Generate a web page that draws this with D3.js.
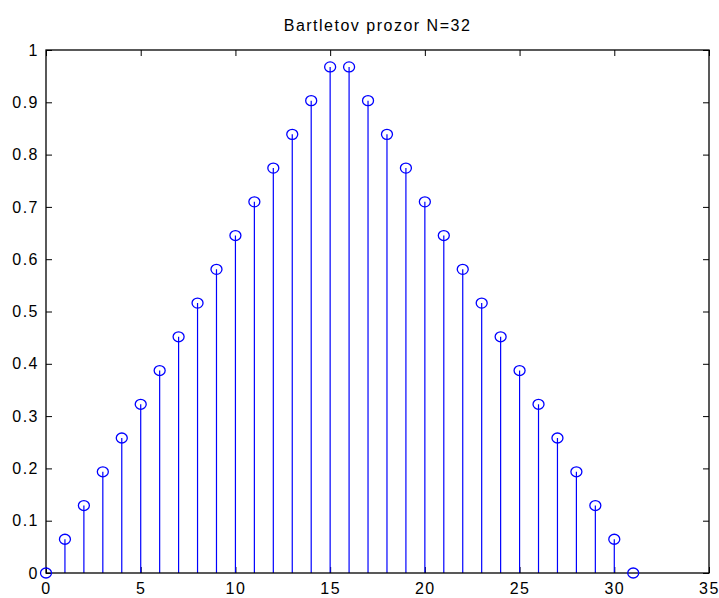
<!DOCTYPE html>
<html>
<head>
<meta charset="utf-8">
<script src="https://cdn.jsdelivr.net/npm/d3@7"></script>
<style>
  body { margin: 0; background: #fff; }
  text { font-family: "Liberation Sans", Arial, Helvetica, sans-serif; }
</style>
</head>
<body>
<div id="chart"></div>
<script>
// Bartlett window, N = 32
var n = [0, 1, 2, 3, 4, 5, 6, 7, 8, 9, 10, 11, 12, 13, 14, 15,
         16, 17, 18, 19, 20, 21, 22, 23, 24, 25, 26, 27, 28, 29, 30, 31];
var w = [0, 0.0645, 0.1290, 0.1935, 0.2581, 0.3226, 0.3871, 0.4516,
         0.5161, 0.5806, 0.6452, 0.7097, 0.7742, 0.8387, 0.9032, 0.9677,
         0.9677, 0.9032, 0.8387, 0.7742, 0.7097, 0.6452, 0.5806, 0.5161,
         0.4516, 0.3871, 0.3226, 0.2581, 0.1935, 0.1290, 0.0645, 0];
var xTicks = [0, 5, 10, 15, 20, 25, 30, 35];
var yTicks = [0, 0.1, 0.2, 0.3, 0.4, 0.5, 0.6, 0.7, 0.8, 0.9, 1];
var title = "Bartletov prozor N=32";

var svgWidth = 719;
var svgHeight = 598;
var margin = { top: 50, right: 10, bottom: 25, left: 46 };
var chart_width = svgWidth - margin.left - margin.right;
var chart_height = svgHeight - margin.top - margin.bottom;

var svg = d3.select("#chart")
    .append("svg")
    .attr("width", svgWidth)
    .attr("height", svgHeight);

var chartGroup = svg.append("g")
    .attr("transform", `translate(${margin.left}, ${margin.top})`);

var xScale = d3.scaleLinear().domain([0, 35]).range([0, chart_width]);
var yScale = d3.scaleLinear().domain([0, 1]).range([chart_height, 0]);

// axes with inward ticks on all four sides
var bottomAxis = d3.axisBottom(xScale).tickValues(xTicks).tickSize(-6).tickPadding(10).tickFormat(d3.format("d"));
var topAxis = d3.axisTop(xScale).tickValues(xTicks).tickSize(-6).tickFormat("");
var leftAxis = d3.axisLeft(yScale).tickValues(yTicks).tickSize(-6).tickPadding(7).tickFormat(d => d === 0 || d === 1 ? d3.format("d")(d) : d3.format(".1f")(d));
var rightAxis = d3.axisRight(yScale).tickValues(yTicks).tickSize(-6).tickFormat("");

function styleAxis(g) {
    g.select(".domain").remove();
    g.selectAll(".tick line").attr("stroke", "#000").attr("stroke-width", 1);
    g.selectAll(".tick text")
        .attr("fill", "#000")
        .style("font-size", "16px")
        .style("letter-spacing", "1.5px")
        .style("font-family", "\"Liberation Sans\", Arial, Helvetica, sans-serif");
}

chartGroup.append("g").attr("transform", `translate(0, ${chart_height})`).call(bottomAxis).call(styleAxis);
chartGroup.append("g").call(topAxis).call(styleAxis);
chartGroup.append("g").call(leftAxis).call(styleAxis);
chartGroup.append("g").attr("transform", `translate(${chart_width}, 0)`).call(rightAxis).call(styleAxis);

// stems
chartGroup.selectAll(".stem")
    .data(n)
    .enter()
    .append("line")
    .attr("class", "stem")
    .attr("x1", (d) => xScale(d))
    .attr("x2", (d) => xScale(d))
    .attr("y1", yScale(0))
    .attr("y2", (d, i) => yScale(w[i]))
    .attr("stroke", "#0000ff")
    .attr("stroke-width", 1.2);

// box
chartGroup.append("rect")
    .attr("x", 0)
    .attr("y", 0)
    .attr("width", chart_width)
    .attr("height", chart_height)
    .attr("fill", "none")
    .attr("stroke", "#000")
    .attr("stroke-width", 1.3);

// markers
chartGroup.selectAll(".marker")
    .data(n)
    .enter()
    .append("ellipse")
    .attr("class", "marker")
    .attr("cx", (d) => xScale(d))
    .attr("cy", (d, i) => yScale(w[i]))
    .attr("rx", 5.5)
    .attr("ry", 5)
    .attr("fill", "none")
    .attr("stroke", "#0000ff")
    .attr("stroke-width", 1.3);

// title
svg.append("text")
    .attr("x", margin.left + chart_width / 2)
    .attr("y", 31)
    .attr("text-anchor", "middle")
    .style("font-size", "16px")
    .style("letter-spacing", "1.5px")
    .text(title);
</script>
</body>
</html>
